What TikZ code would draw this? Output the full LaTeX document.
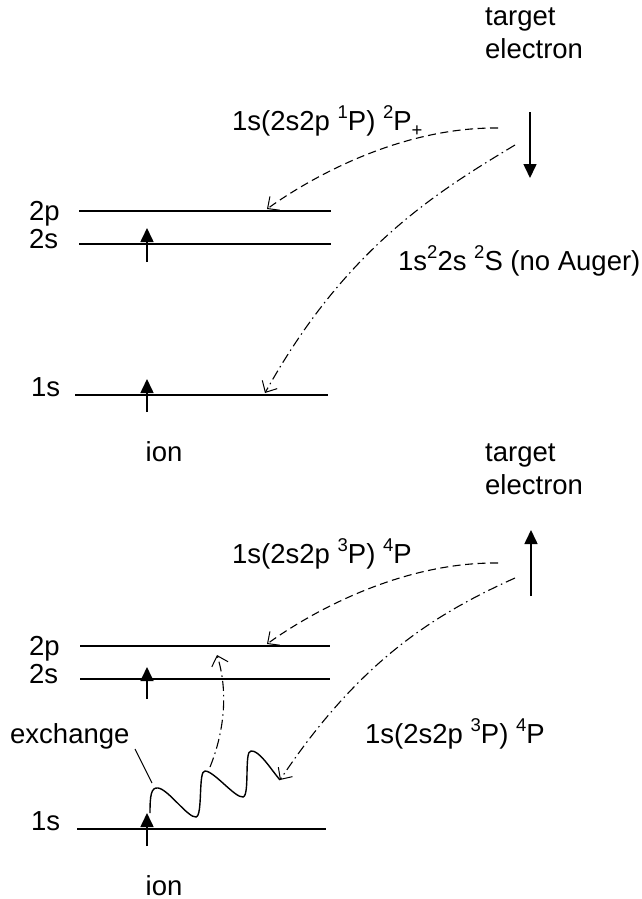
\documentclass[tikz,border=0pt]{standalone}
\usepackage{fontspec}
\setmainfont{Liberation Sans}
\usetikzlibrary{arrows.meta}
\newcommand\supx[1]{\raisebox{0.42em}{\fontsize{18.5}{18.5}\selectfont #1}}
\newcommand\subx[1]{\raisebox{-0.22em}{\fontsize{18.5}{18.5}\selectfont #1}}
\begin{document}
\begin{tikzpicture}[x=1pt,y=-1pt,
  font=\fontsize{27.5}{33}\selectfont,
  lbl/.style={anchor=base west, inner sep=0pt},
  lblc/.style={anchor=base, inner sep=0pt},
  level/.style={line width=2pt},
  spin/.style={line width=1.6pt, -{Triangle[length=14pt,width=13pt]}},
  barb/.style={-{Straight Barb[length=9pt,width=17pt,line width=1pt]}},
  dsh/.style={barb, line width=1.1pt, dash pattern=on 8pt off 4.5pt},
  dshdot/.style={barb, line width=1.1pt, dash pattern=on 10pt off 4pt on 1.5pt off 4pt},
  wave/.style={line width=1.4pt},
  leader/.style={line width=1.1pt}]
\useasboundingbox (0,0) rectangle (642,899);

% ---------- top panel ----------
\node[lbl] (te1a) at (485,26) {target};
\node[lbl] (te1b) at (485,59) {electron};
\coordinate (ta1) at (530,112); \coordinate (tb1) at (530,178);
\draw[spin] (ta1) -- (tb1);

\node[lbl] (l2p1) at (29,220) {2p};
\node[lbl] (l2s1) at (29,248) {2s};
\node[lbl] (l1s1) at (31,396) {1s};
\coordinate (p2a) at (79,211); \coordinate (p2b) at (331,211);
\coordinate (s2a) at (79,244); \coordinate (s2b) at (331,244);
\coordinate (s1a) at (75,395); \coordinate (s1b) at (328,395);
\draw[level] (p2a) -- (p2b);
\draw[level] (s2a) -- (s2b);
\draw[level] (s1a) -- (s1b);
\coordinate (u2a) at (147,262); \coordinate (u2b) at (147,228);
\coordinate (u1a) at (147,412); \coordinate (u1b) at (147,379);
\draw[spin] (u2a) -- (u2b);
\draw[spin] (u1a) -- (u1b);
\node[lblc] (ion1) at (164,461) {ion};

\node[lbl] (t1) at (232,130) {1s(2s2p \supx{1}P) \supx{2}P\subx{+}};
\node[lbl] (t2) at (398,270) {1s\supx{2}2s \supx{2}S (no Auger)};

\coordinate (d1s) at (498,128); \coordinate (d1e) at (267,209);
\draw[dsh] (d1s) .. controls (400,127) and (310,178) .. (d1e);
\coordinate (c1s) at (515,145); \coordinate (c1e) at (265,393);
\draw[dshdot] (c1s) .. controls (435,193) and (345,249) .. (c1e);

% ---------- bottom panel ----------
\node[lbl] (te2a) at (485,461) {target};
\node[lbl] (te2b) at (485,494) {electron};
\coordinate (ta2) at (531,596); \coordinate (tb2) at (531,530);
\draw[spin] (ta2) -- (tb2);

\node[lbl] (l2p2) at (29,655) {2p};
\node[lbl] (l2s2) at (29,683) {2s};
\node[lbl] (l1s2) at (31,830) {1s};
\coordinate (q2a) at (80,646); \coordinate (q2b) at (330,646);
\coordinate (r2a) at (80,679); \coordinate (r2b) at (330,679);
\coordinate (r1a) at (77,829); \coordinate (r1b) at (326,829);
\draw[level] (q2a) -- (q2b);
\draw[level] (r2a) -- (r2b);
\draw[level] (r1a) -- (r1b);
\coordinate (v2a) at (147,699); \coordinate (v2b) at (147,667);
\coordinate (v1a) at (147,846); \coordinate (v1b) at (147,813);
\draw[spin] (v2a) -- (v2b);
\draw[spin] (v1a) -- (v1b);
\node[lblc] (ion2) at (164,895) {ion};

\node[lbl] (t3) at (232,563) {1s(2s2p \supx{3}P) \supx{4}P};
\node[lbl] (t4) at (365,743) {1s(2s2p \supx{3}P) \supx{4}P};
\node[lbl] (ex) at (10,743) {exchange};

\coordinate (d2s) at (498,563); \coordinate (d2e) at (267,644);
\draw[dsh] (d2s) .. controls (400,562) and (310,613) .. (d2e);

% wave
\coordinate (w0) at (150,813);
\coordinate (w1) at (158,788);
\coordinate (w2) at (196,817);
\coordinate (w3) at (205,771);
\coordinate (w4) at (243,797);
\coordinate (w5) at (251,751);
\coordinate (w6) at (280,780);
\draw[wave] (w0) .. controls (150,796) and (151,787) .. (w1)
  .. controls (168,789) and (188,818) .. (w2)
  .. controls (203,816) and (198,770) .. (w3)
  .. controls (214,771) and (235,798) .. (w4)
  .. controls (250,796) and (244,750) .. (w5)
  .. controls (259,750) and (270,768) .. (w6);

\coordinate (c2s) at (515,578);
\draw[dshdot] (c2s) .. controls (435,614) and (360,660) .. (w6);
\coordinate (x1) at (210,767); \coordinate (x2) at (217,655);
\draw[dshdot] (x1) .. controls (225,730) and (228,690) .. (x2);
\coordinate (ld1) at (135,749); \coordinate (ld2) at (152,783);
\draw[leader] (ld1) -- (ld2);
\end{tikzpicture}
\end{document}
